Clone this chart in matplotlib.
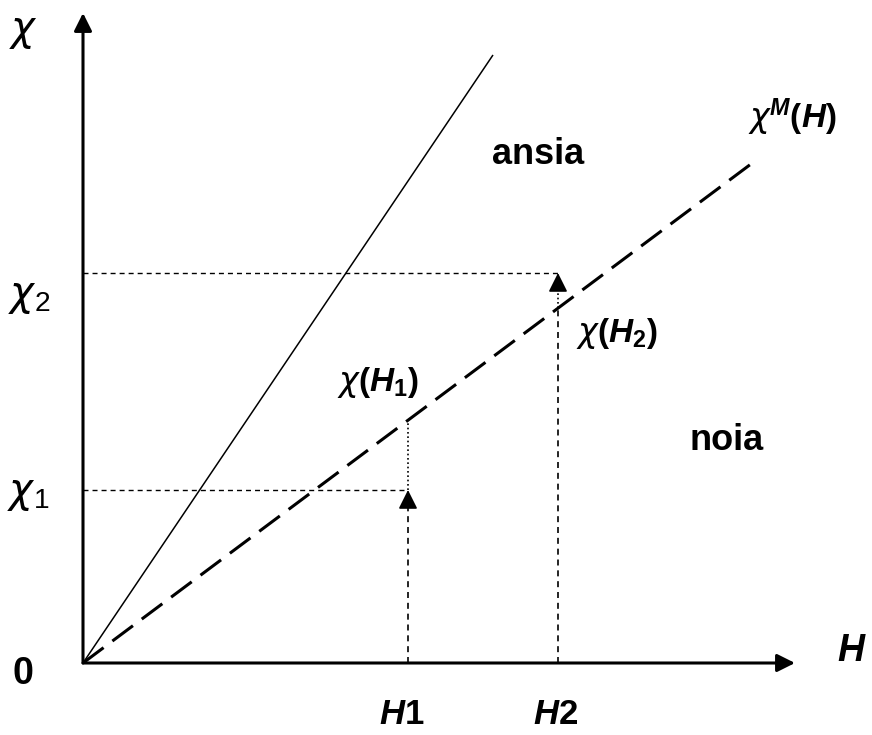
import matplotlib
matplotlib.use("Agg")
import matplotlib.pyplot as plt

plt.rcParams['font.family'] = ['Liberation Sans', 'DejaVu Sans']
plt.rcParams['mathtext.fontset'] = 'custom'
plt.rcParams['mathtext.rm'] = 'Liberation Sans:bold'
plt.rcParams['mathtext.it'] = 'Liberation Sans:italic:bold'
plt.rcParams['mathtext.bf'] = 'Liberation Sans:bold'
plt.rcParams['mathtext.sf'] = 'DejaVu Sans:italic'
plt.rcParams['mathtext.cal'] = 'Liberation Sans'

# ---- data (diagram units) ----
h_marks = [3.25, 4.75]          # H1, H2
chi_marks = [1.73, 3.90]        # chi1, chi2
slope_M = 0.747                 # chi^M(H) slope (dashed line)
h_M_end = 6.67                  # end of dashed line
slope_solid = 1.483             # steeper solid line
h_solid_end = 4.10
x_axis_end = 7.12
y_axis_end = 6.50

fig = plt.figure(figsize=(8.72, 7.35), dpi=100)
ax = fig.add_axes([0, 0, 1, 1])
ax.set_xlim(-0.83, 7.89)
ax.set_ylim(-0.72, 6.63)
ax.axis('off')

K = 'black'
arrow_kw = dict(arrowstyle='-|>', color=K, lw=2.2, mutation_scale=27,
                shrinkA=0, shrinkB=0)

# axes arrows
ax.annotate('', xy=(x_axis_end, 0), xytext=(0, 0), arrowprops=arrow_kw)
ax.annotate('', xy=(0, y_axis_end), xytext=(0, 0), arrowprops=arrow_kw)

# solid line
ax.plot([0, h_solid_end], [0, slope_solid * h_solid_end], color=K, lw=1.1,
        solid_capstyle='butt')
# chi^M(H) dashed line
ax.plot([0, h_M_end], [0, slope_M * h_M_end], color=K, lw=2.2,
        linestyle=(0, (8.4, 3.6)), dash_capstyle='butt')

thin_dash = (0, (3.6, 2.9))
dot = (0, (1, 1.6))
h1, h2 = h_marks
c1, c2 = chi_marks

# horizontal guides
ax.plot([0, h1], [c1, c1], color=K, lw=1.0, linestyle=thin_dash)
ax.plot([0, h2], [c2, c2], color=K, lw=1.0, linestyle=thin_dash)

head_kw = dict(arrowstyle='-|>', color=K, lw=1.2, mutation_scale=29,
               shrinkA=0, shrinkB=0)

# H1: dashed up to chi1 (arrow), dotted from chi1 to chi(H1)
ax.plot([h1, h1], [0, c1 - 0.1], color=K, lw=1.2, linestyle=thin_dash)
ax.plot([h1, h1], [c1, slope_M * h1], color=K, lw=1.2, linestyle=dot)
ax.annotate('', xy=(h1, c1), xytext=(h1, c1 - 0.17), arrowprops=head_kw)

# H2: dashed up to chi(H2), dotted up to chi2 (arrow)
ax.plot([h2, h2], [0, slope_M * h2], color=K, lw=1.2, linestyle=thin_dash)
ax.plot([h2, h2], [slope_M * h2, c2 - 0.1], color=K, lw=1.2, linestyle=dot)
ax.annotate('', xy=(h2, c2), xytext=(h2, c2 - 0.17), arrowprops=head_kw)

# ---- labels ----
ax.text(-0.60, 6.31, r'$\mathsf{\chi}$', fontsize=29, ha='center', va='center')
ax.text(-0.54, 3.66, r'$\mathsf{\chi}_\mathcal{2}$', fontsize=29, ha='center', va='center')
ax.text(-0.55, 1.69, r'$\mathsf{\chi}_\mathcal{1}$', fontsize=29, ha='center', va='center')
ax.text(-0.60, -0.11, '0', fontsize=27, fontweight='bold', ha='center', va='center')
ax.text(7.69, 0.12, r'$H$', fontsize=27, ha='center', va='center')
ax.text(h1 - 0.06, -0.52, r'$H$1', fontsize=25, fontweight='bold', ha='center', va='center')
ax.text(h2 - 0.02, -0.52, r'$H$2', fontsize=25, fontweight='bold', ha='center', va='center')
ax.text(2.95, 2.80, r'$\mathsf{\chi}(H_1)$', fontsize=24, ha='center', va='center')
ax.text(5.34, 3.29, r'$\mathsf{\chi}(H_2)$', fontsize=24, ha='center', va='center')
ax.text(7.09, 5.46, r'$\mathsf{\chi}^M(H)$', fontsize=24, ha='center', va='center')
ax.text(4.55, 5.08, 'ansia', fontsize=26, fontweight='bold', ha='center', va='center')
ax.text(6.44, 2.23, 'noia', fontsize=26, fontweight='bold', ha='center', va='center')

fig.savefig('out.png', dpi=100)
